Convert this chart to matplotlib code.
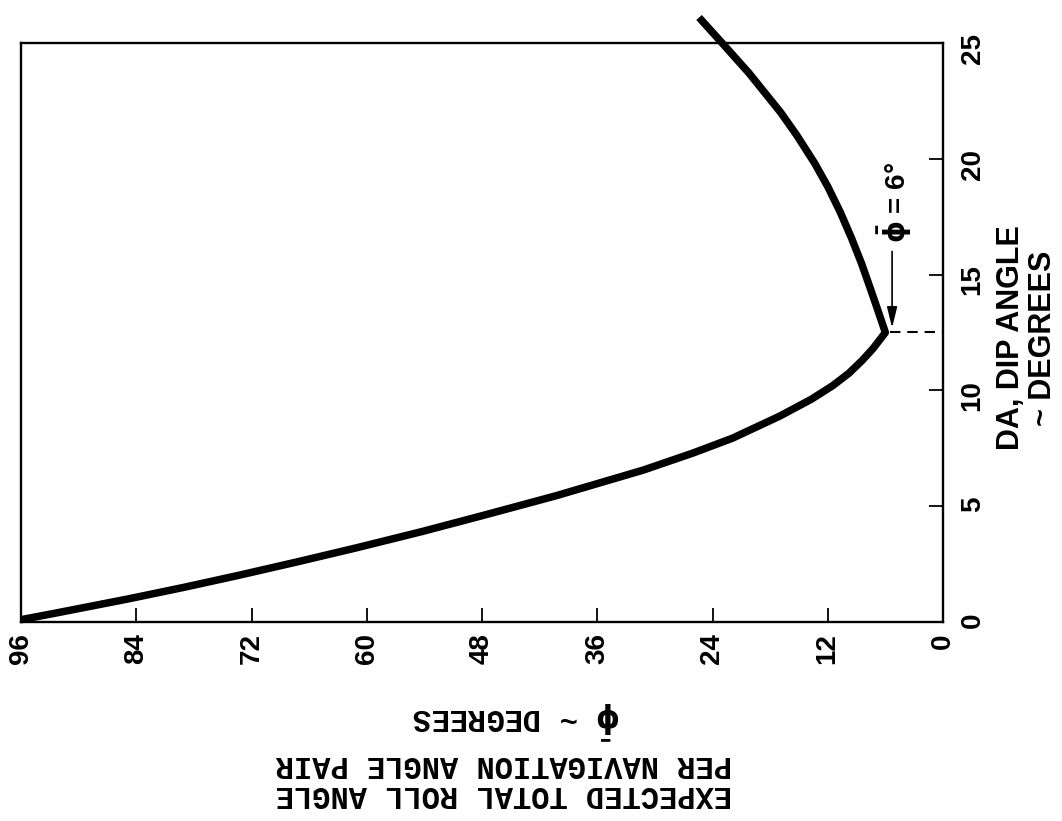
import numpy as np
import matplotlib.pyplot as plt

# dip angle (deg) and expected total roll angle per navigation angle pair (deg)
dip_angle = [0.1, 0.4, 0.7, 1.0, 1.5, 2.0, 2.6, 3.2, 3.9, 4.6, 5.45, 6.56,
             7.3, 7.94, 8.89, 9.62, 10.2, 10.74, 11.3, 11.8, 12.5,
             13.6, 14.5, 15.5, 16.6, 17.7, 18.8, 19.8, 21.0, 22.0, 23.7,
             25.0, 26.1]
roll_angle = [96, 92.2, 88.5, 84.8, 79.0, 73.5, 67.2, 61.1, 54.3, 47.9, 40.3,
              31.2, 26.0, 21.9, 17.0, 13.7, 11.5, 9.8, 8.4, 7.3, 6.0,
              6.9, 7.65, 8.5, 9.55, 10.7, 12.0, 13.35, 15.2, 16.9, 20.2,
              23.0, 25.4]

phi_ticks = [96, 84, 72, 60, 48, 36, 24, 12, 0]
da_ticks = [0, 5, 10, 15, 20, 25]

W, H = 1062, 821
fig = plt.figure(figsize=(W / 100, H / 100), dpi=100)
ax = fig.add_axes([21 / W, (H - 622) / H, (943 - 21) / W, (622 - 43) / H])

# page is turned on its side: phi runs right-to-left, DA runs upward
ax.plot(roll_angle, dip_angle, color='black', lw=5.4, solid_capstyle='butt',
        solid_joinstyle='round', clip_on=False, zorder=3)

i_min = int(np.argmin(roll_angle))
phi_min = roll_angle[i_min]
da_min = dip_angle[i_min]

# dashed drop line from the minimum to the DA axis
ax.plot([phi_min - 0.5, 0], [da_min, da_min], color='black', lw=1.5,
        dashes=(5, 3.3))
ax.annotate('', xy=(phi_min - 0.7, da_min + 0.2), xytext=(phi_min - 0.7, 16.0),
            arrowprops=dict(arrowstyle='-|>,head_length=0.9,head_width=0.22',
                            lw=1.2, color='black', shrinkA=0, shrinkB=0,
                            mutation_scale=14))
ax.text(phi_min - 1.0, 18.1, r'$\mathbf{\bar{\phi}}$ = %d°' % round(phi_min),
        rotation=90, ha='center', va='center', fontsize=20,
        family='Liberation Sans', fontweight='bold')

ax.set_xlim(96, 0)
ax.set_ylim(0, 25)
ax.set_xticks(phi_ticks)
ax.set_yticks(da_ticks)
ax.yaxis.tick_right()
ax.tick_params(axis='both', direction='in', length=10, width=1.3,
               labelsize=20, pad=8)
ax.tick_params(axis='y', pad=12)
for lab in ax.get_xticklabels() + ax.get_yticklabels():
    lab.set_rotation(90)
    lab.set_family('Liberation Sans')
    lab.set_fontweight('bold')
for s in ax.spines.values():
    s.set_linewidth(1.7)

fig.text(1027 / W, (H - 338) / H, 'DA, DIP ANGLE\n~ DEGREES', rotation=90,
         ha='center', va='center', multialignment='center', fontsize=22,
         family='Liberation Sans', fontweight='bold', linespacing=1.1)

fig.text(504 / W, (H - 779) / H,
         'EXPECTED TOTAL ROLL ANGLE\nPER NAVIGATION ANGLE PAIR', rotation=180,
         ha='center', va='center', fontsize=22, family='Liberation Mono',
         fontweight='bold', linespacing=1.0)
fig.text(517 / W, (H - 720) / H, r'$\mathbf{\bar{\phi}}$ ~ DEGREES',
         rotation=180, ha='center', va='center', fontsize=22,
         family='Liberation Mono', fontweight='bold')

fig.savefig('out.png', dpi=100)
